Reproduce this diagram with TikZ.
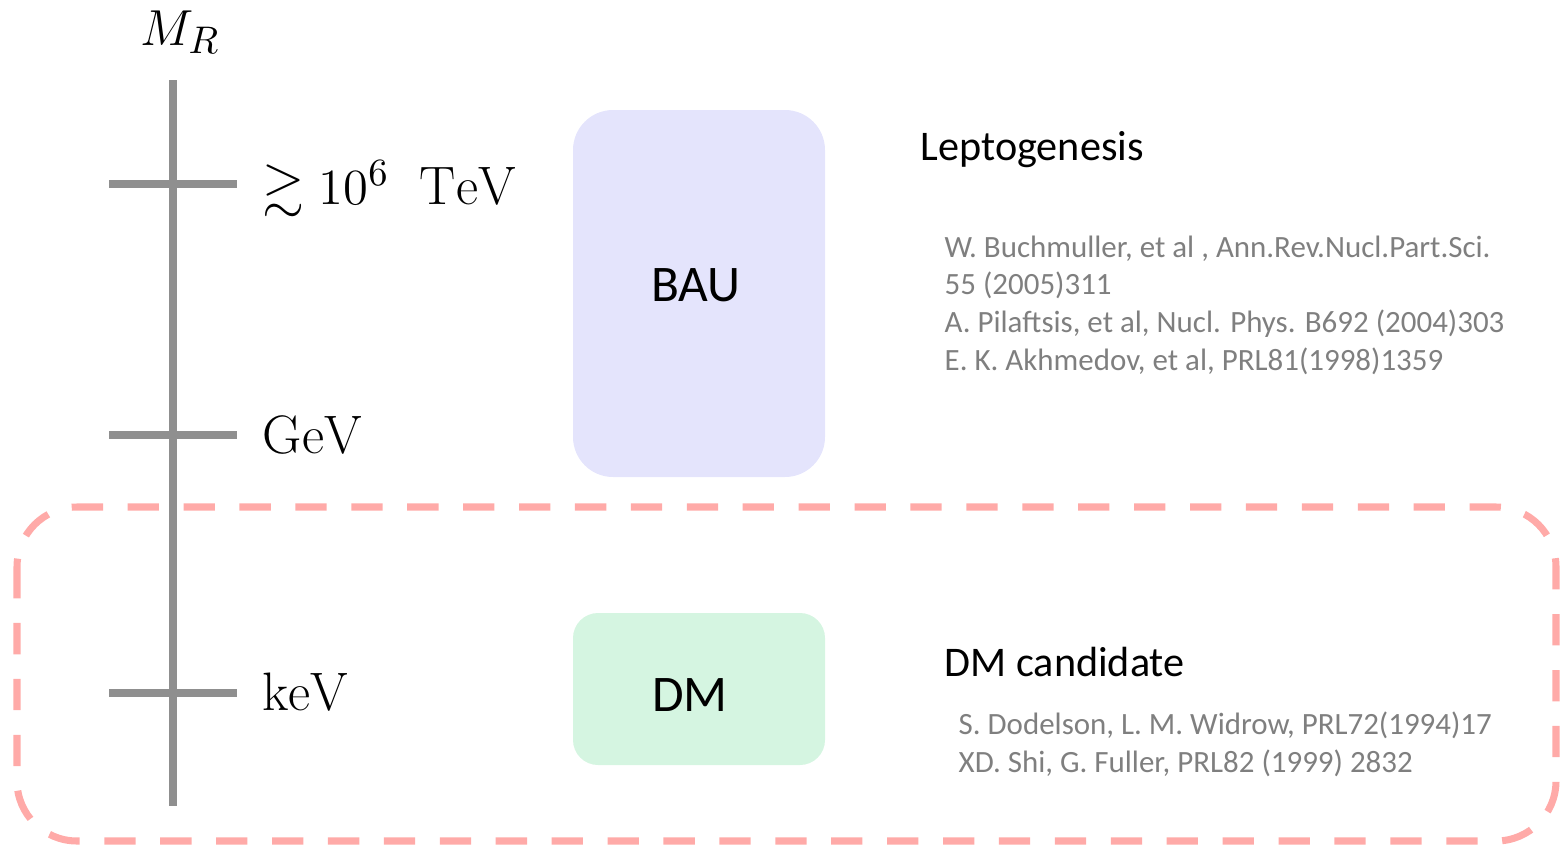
\documentclass[tikz,border=0pt]{standalone}
\usepackage{amsmath,amssymb}
\usepackage{fontspec}
\usepackage{xcolor}
\usetikzlibrary{positioning, calc}
\newfontfamily\gillfont{Carlito}
\definecolor{axisgray}{HTML}{8F8F8F}
\definecolor{refgray}{HTML}{7F7F7F}
\definecolor{baufill}{HTML}{E4E4FC}
\definecolor{dmfill}{HTML}{D5F5E1}
\definecolor{dmframe}{HTML}{FFAAA8}
\tikzset{
	scalebar/.style={draw=axisgray, line width=2.3pt},
	scalelabel/.style={anchor=base west, inner sep=0pt, font=\fontsize{15.4}{18}\selectfont},
	roundbox/.style={rectangle, draw=none, rounded corners=4mm}
}

\begin{document}
\begin{tikzpicture}[
		x=0.01cm, y=-0.01cm,
		topic/.style={anchor=base west, inner sep=0pt, font=\gillfont\fontsize{12}{14}\selectfont},
		% base of a multi-line node is its last line
		refs/.style={anchor=base west, inner sep=0pt, text=refgray, align=left,
			font=\gillfont\fontsize{8.8}{10.7}\selectfont},
		boxtext/.style={font=\gillfont\fontsize{14.6}{17}\selectfont}
		]
		\useasboundingbox (0,0) rectangle (1560,845);
		
		% --- Mass axis ---
		\coordinate (axis_top) at (173,80);
		\coordinate (axis_bottom) at (173,806);
		\draw[scalebar] (axis_top) -- (axis_bottom);
		\node[scalelabel] (mr_label) at (140,45) {$M_R$};
		
		% --- Ticks and their scales ---
		\coordinate (tick_tev) at (173,184);
		\coordinate (tick_gev) at (173,435);
		\coordinate (tick_kev) at (173,693);
		\draw[scalebar] ($(tick_tev)+(-64,0)$) -- ($(tick_tev)+(64,0)$);
		\draw[scalebar] ($(tick_gev)+(-64,0)$) -- ($(tick_gev)+(64,0)$);
		\draw[scalebar] ($(tick_kev)+(-64,0)$) -- ($(tick_kev)+(64,0)$);
		\node[scalelabel] (tev_label) at (262,204) {$\gtrsim 10^6\ \;\mathrm{TeV}$};
		\node[scalelabel] (gev_label) at (262,453) {$\mathrm{GeV}$};
		\node[scalelabel] (kev_label) at (262,710) {$\mathrm{keV}$};
		
		% --- Boxes ---
		\draw[roundbox, fill=baufill] (573,110) rectangle (825,477);
		\node[boxtext] (bau) at (696,285) {BAU};
		\draw[roundbox, fill=dmfill, rounded corners=2.5mm] (573,613) rectangle (825,765);
		\node[boxtext] (dm) at (690,695) {DM};
		
		% --- Leptogenesis references ---
		\node[topic] (lepto) at (920,160) {Leptogenesis};
		\node[refs] (lepto_refs) at (944,370) {W. Buchmuller, et al , Ann.Rev.Nucl.Part.Sci.\\
			55 (2005)311\\
			A. Pilaftsis, et al, Nucl. Phys. B692 (2004)303\\
			E. K. Akhmedov, et al, PRL81(1998)1359};
		
		% --- Dark matter references ---
		\node[topic] (dmcand) at (944,676) {DM candidate};
		\node[refs] (dm_refs) at (958,772) {S. Dodelson, L. M. Widrow, PRL72(1994)17\\
			XD. Shi, G. Fuller, PRL82 (1999) 2832};
		
		% --- keV region frame ---
		\draw[dmframe, line width=2pt, dash pattern=on 8.9pt off 7pt, rounded corners=6mm]
			(17,507) rectangle (1556,841);
		
	\end{tikzpicture}
\end{document}
